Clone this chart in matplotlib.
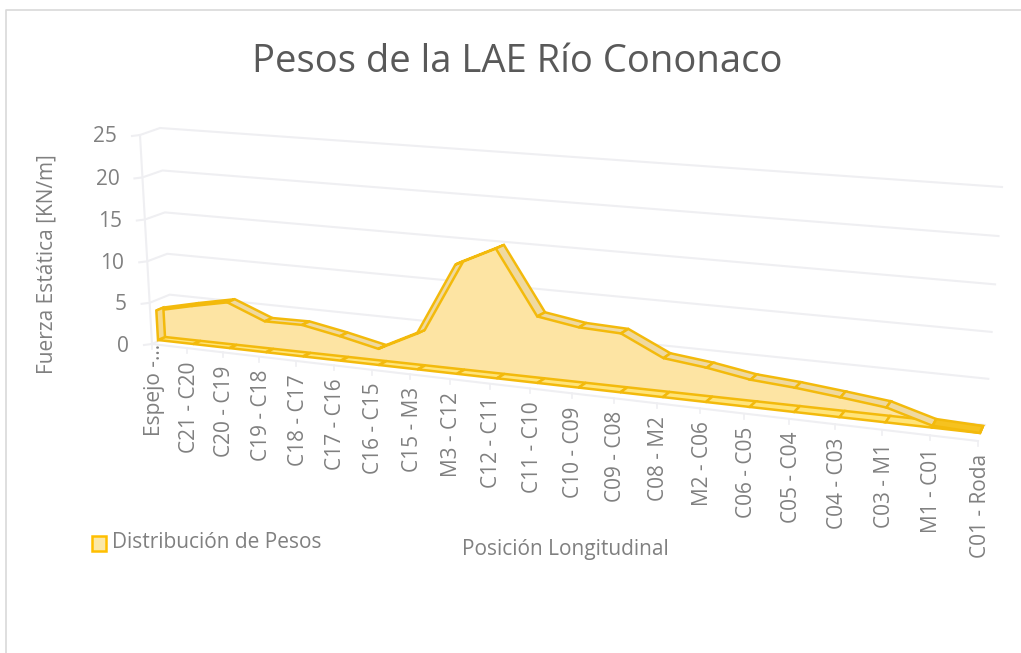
import numpy as np
import matplotlib
matplotlib.use('Agg')
import matplotlib.pyplot as plt

# Data
categorias = ['Espejo -…', 'C21 - C20', 'C20 - C19', 'C19 - C18', 'C18 - C17', 'C17 - C16', 'C16 - C15',
              'C15 - M3', 'M3 - C12', 'C12 - C11', 'C11 - C10', 'C10 - C09', 'C09 - C08', 'C08 - M2',
              'M2 - C06', 'C06 - C05', 'C05 - C04', 'C04 - C03', 'C03 - M1', 'M1 - C01', 'C01 - Roda']
pesos = [3.6, 4.6, 5.5, 3.7, 3.75, 2.9, 1.9, 4.15, 12.5, 14.7, 7.55, 6.8, 6.6, 4.35, 3.8, 3.0, 2.65, 2.15, 1.6, 0.2, 0.0]
y_ticks = [0, 5, 10, 15, 20, 25]

GRIS = '#808080'
GRID = '#EFEFF2'
BORDE = '#F3BA0C'

plt.rcParams['font.family'] = ['Open Sans', 'DejaVu Sans']


# Homography from (category index, value) to picture pixels, given the plane corners
def make_plane(bl, br, tr, tl):
    n = len(categorias) - 1
    src = [(0, 0), (n, 0), (n, 25), (0, 25)]
    dst = [bl, br, tr, tl]
    A = []
    b = []
    for (u, v), (x, y) in zip(src, dst):
        A.append([u, v, 1, 0, 0, 0, -u * x, -v * x])
        A.append([0, 0, 0, u, v, 1, -u * y, -v * y])
        b += [x, y]
    h = np.linalg.solve(np.array(A, float), np.array(b, float))
    H = np.append(h, 1).reshape(3, 3)

    def project(u, v):
        p = H @ np.array([u, v, 1.0])
        return p[0] / p[2], p[1] / p[2]
    return project


# Planes from the back wall to the front of the floor
back_wall = make_plane((172, 335), (985, 425), (1002, 187), (160, 128))
front_wall = make_plane((152, 344), (978, 441), (982, 195), (140, 135))
area_front = make_plane((158, 340), (980, 433), (996, 190), (146, 130))
area_back = make_plane((165, 337), (983, 426), (1000, 186), (153, 127))

fig = plt.figure(figsize=(10.21, 6.53), dpi=100)
ax = fig.add_axes([0, 0, 1, 1])
ax.set_xlim(0, 1021)
ax.set_ylim(653, 0)
ax.axis('off')

# Chart border, open on the right and at the bottom
ax.plot([6, 6, 1021], [653, 10, 10], color='#D9D9D9', lw=1.2, zorder=1)

n = len(categorias) - 1

# Walls and grid
for t in y_ticks:
    xa, ya = front_wall(0, t)
    xb, yb = back_wall(0, t)
    xc, yc = back_wall(n, t)
    ax.plot([xa - 8, xa, xb, xc], [ya + 1, ya, yb, yc], color=GRID, lw=1.5, zorder=2)
    ax.text(xa - 23, ya + 2, str(t), ha='right', va='center', fontsize=15, color=GRIS)
xa, ya = front_wall(0, 0)
xb, yb = front_wall(0, 25)
ax.plot([xa, xb], [ya, yb], color=GRID, lw=1.5, zorder=2)
xa, ya = front_wall(0, 0)
xb, yb = front_wall(n, 0)
ax.plot([xa, xb], [ya, yb], color=GRID, lw=1.5, zorder=2)

# Category ticks and labels, the cut first label starts higher up
for i, cat in enumerate(categorias):
    x0, y0 = front_wall(i, 0)
    ax.plot([x0, x0], [y0, y0 + 5], color=GRID, lw=1.2, zorder=2)
    gap = 0 if i == 0 else 13
    ax.text(x0 + 2, y0 + gap, cat, rotation=90, ha='center', va='top', fontsize=15, color=GRIS)

# Area: front and back outlines
front_top = [area_front(i, p) for i, p in enumerate(pesos)]
back_top = [area_back(i, p) for i, p in enumerate(pesos)]
front_base = [area_front(i, 0) for i in range(n + 1)]
back_base = [area_back(i, 0) for i in range(n + 1)]

# Main body
body = front_top + front_base[::-1]
ax.fill(*zip(*body), facecolor='#FDE4A3', edgecolor='none', zorder=3)

# Floor strip, the last stretch is squeezed to solid gold
for i in range(n):
    quad = [front_base[i], front_base[i + 1], back_base[i + 1], back_base[i]]
    color = '#F6C21F' if i == n - 1 else '#FFE47A'
    ax.fill(*zip(*quad), facecolor=color, edgecolor=BORDE, lw=1.8, zorder=4)

# Top strip
for i in range(n):
    quad = [front_top[i], front_top[i + 1], back_top[i + 1], back_top[i]]
    color = '#F6C21F' if i == n - 1 else '#EFD9A0'
    ax.fill(*zip(*quad), facecolor=color, edgecolor=BORDE, lw=1.8, zorder=5)

# End caps
cap = [front_base[0], front_top[0], back_top[0], back_base[0]]
ax.fill(*zip(*cap), facecolor='#F6D98C', edgecolor=BORDE, lw=1.8, zorder=5)
cap = [front_base[n], front_top[n], back_top[n], back_base[n]]
ax.fill(*zip(*cap), facecolor='#F6C21F', edgecolor=BORDE, lw=1.8, zorder=6)

# Legend
ax.add_patch(plt.Rectangle((92, 536), 14, 15, facecolor='#FBE8A8', edgecolor='#FFBF00', lw=1.8, zorder=3))
ax.text(112, 543, 'Distribución de Pesos', ha='left', va='center', fontsize=15, color=GRIS)

# Titles
ax.text(517, 62, 'Pesos de la LAE Río Cononaco', ha='center', va='center', fontsize=27.5, color='#595959')
ax.text(47, 264, 'Fuerza Estática [KN/m]', rotation=90, ha='center', va='center', fontsize=15, color=GRIS)
ax.text(565, 550, 'Posición Longitudinal', ha='center', va='center', fontsize=15, color=GRIS)

fig.savefig('out.png', dpi=100)
